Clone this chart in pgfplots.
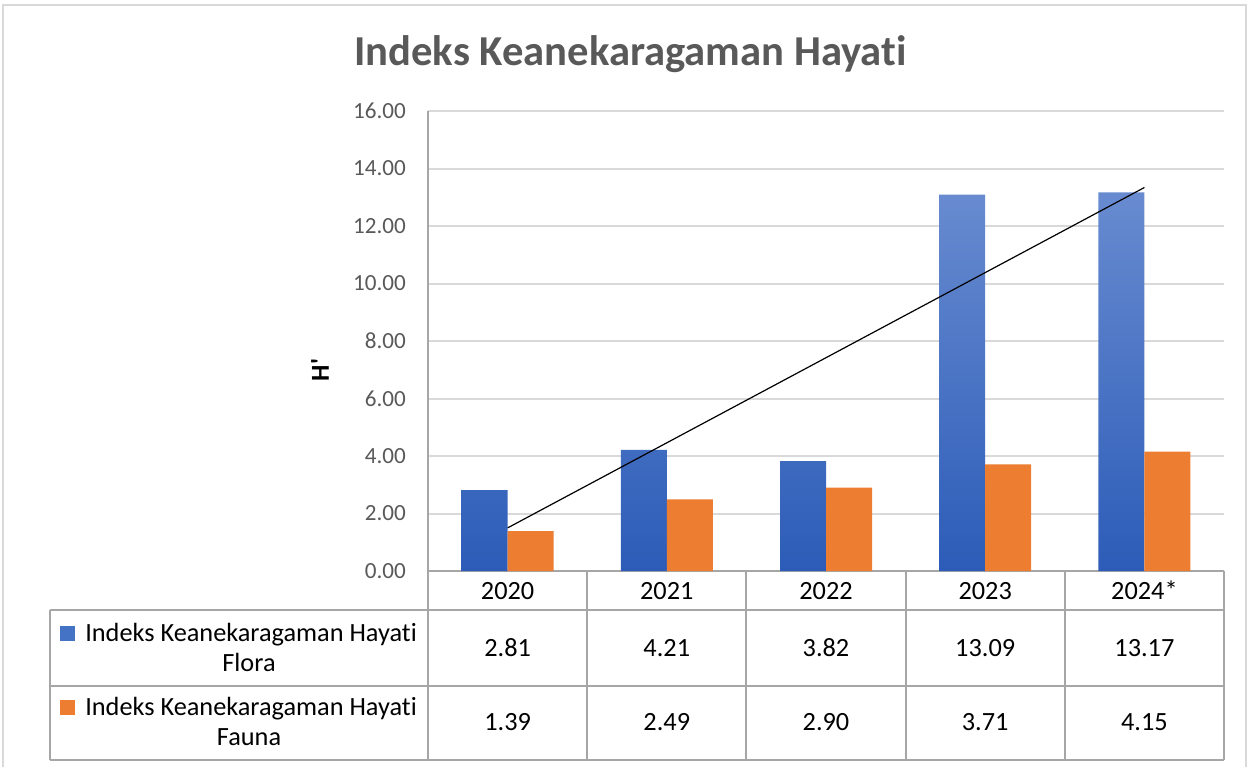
\documentclass[border=0pt]{standalone}
\usepackage{pgfplots}
\pgfplotsset{compat=1.18}
\usepackage{pgfplotstable}
\usepackage{fontspec}
\setmainfont{Carlito}[Ligatures={NoCommon}]
\definecolor{bartop}{HTML}{688BD0}
\definecolor{barbot}{HTML}{2C5CB8}
\definecolor{keyblue}{HTML}{4472C4}
\definecolor{faunaor}{HTML}{ED7D31}
\definecolor{txtgray}{HTML}{595959}
\definecolor{gridgray}{HTML}{D9D9D9}
\definecolor{tblgray}{HTML}{A6A6A6}
\definecolor{framegray}{HTML}{D9D9D9}
\pgfplotstableread{
x flora fauna
0 2.81 1.39
1 4.21 2.49
2 3.82 2.90
3 13.09 3.71
4 13.17 4.15
}\data
\newcommand\tfont{\fontsize{13.2}{15.8}\selectfont}
\begin{document}
\begin{tikzpicture}[x=0.5bp,y=-0.5bp]
\path[use as bounding box] (0,0) rectangle (1255,767);
\draw[framegray, line width=1bp] (3,767) -- (3,5) -- (1246,5) -- (1246,767);
\begin{axis}[
  at={(214bp,-285.5bp)}, anchor=south west,
  width=398bp, height=230bp, scale only axis,
  xmin=-0.5, xmax=4.5, ymin=0, ymax=16,
  axis lines*=left,
  axis line style={draw=tblgray, line width=1bp},
  ytick={0,2,...,16},
  xtick={0,...,4},
  xticklabels={2020,2021,2022,2023,2024*},
  major tick length=0pt,
  ymajorgrids, grid style={gridgray, line width=1bp},
  /pgf/number format/assume math mode=true,
  yticklabel style={/pgf/number format/fixed, /pgf/number format/fixed zerofill, /pgf/number format/precision=2, font=\fontsize{11.6}{14}\selectfont, text=txtgray, xshift=-7.6bp},
  xticklabel style={font=\tfont, text=black, anchor=base, yshift=-14bp},
  clip=false,
]
\addplot[ybar, bar width=23bp, bar shift=-11.5bp, draw=none, top color=bartop, bottom color=barbot] table[x=x,y=flora]{\data};
\addplot[ybar, bar width=23bp, bar shift=11.5bp, draw=none, fill=faunaor] table[x=x,y=fauna]{\data};
\addplot[black, line width=0.6bp, mark=none] coordinates {(0,1.50) (4,13.34)};
\end{axis}
% title and y label
\node[font=\bfseries\fontsize{21.4}{25}\selectfont, text=txtgray, anchor=base] at (630.5,65) {Indeks Keanekaragaman Hayati};
\node[font=\bfseries\fontsize{13}{15}\selectfont, rotate=90, anchor=center] at (320,370) {H\textquotesingle};
% data table
\draw[tblgray, line width=1bp] (50,610) -- (1224,610) (50,686) -- (1224,686) (50,760) -- (1224,760) (50,610) -- (50,760) (428,571) -- (428,760);
\foreach \xx in {587.2,746.4,905.6,1064.8,1224} \draw[tblgray, line width=1bp] (\xx,571) -- (\xx,760);
\fill[keyblue] (60,626) rectangle (75,641);
\fill[faunaor] (60,700) rectangle (75,715);
\node[font=\tfont, anchor=base] at (251,641) {Indeks Keanekaragaman Hayati};
\node[font=\tfont, anchor=base] at (249,671) {Flora};
\node[font=\tfont, anchor=base] at (251,715) {Indeks Keanekaragaman Hayati};
\node[font=\tfont, anchor=base] at (249,745) {Fauna};
\foreach \xx/\v in {507.6/2.81,666.8/4.21,826/3.82,985.2/13.09,1144.4/13.17}
  \node[font=\tfont, anchor=base] at (\xx,656) {\v};
\foreach \xx/\v in {507.6/1.39,666.8/2.49,826/2.90,985.2/3.71,1144.4/4.15}
  \node[font=\tfont, anchor=base] at (\xx,730) {\v};
\end{tikzpicture}
\end{document}
